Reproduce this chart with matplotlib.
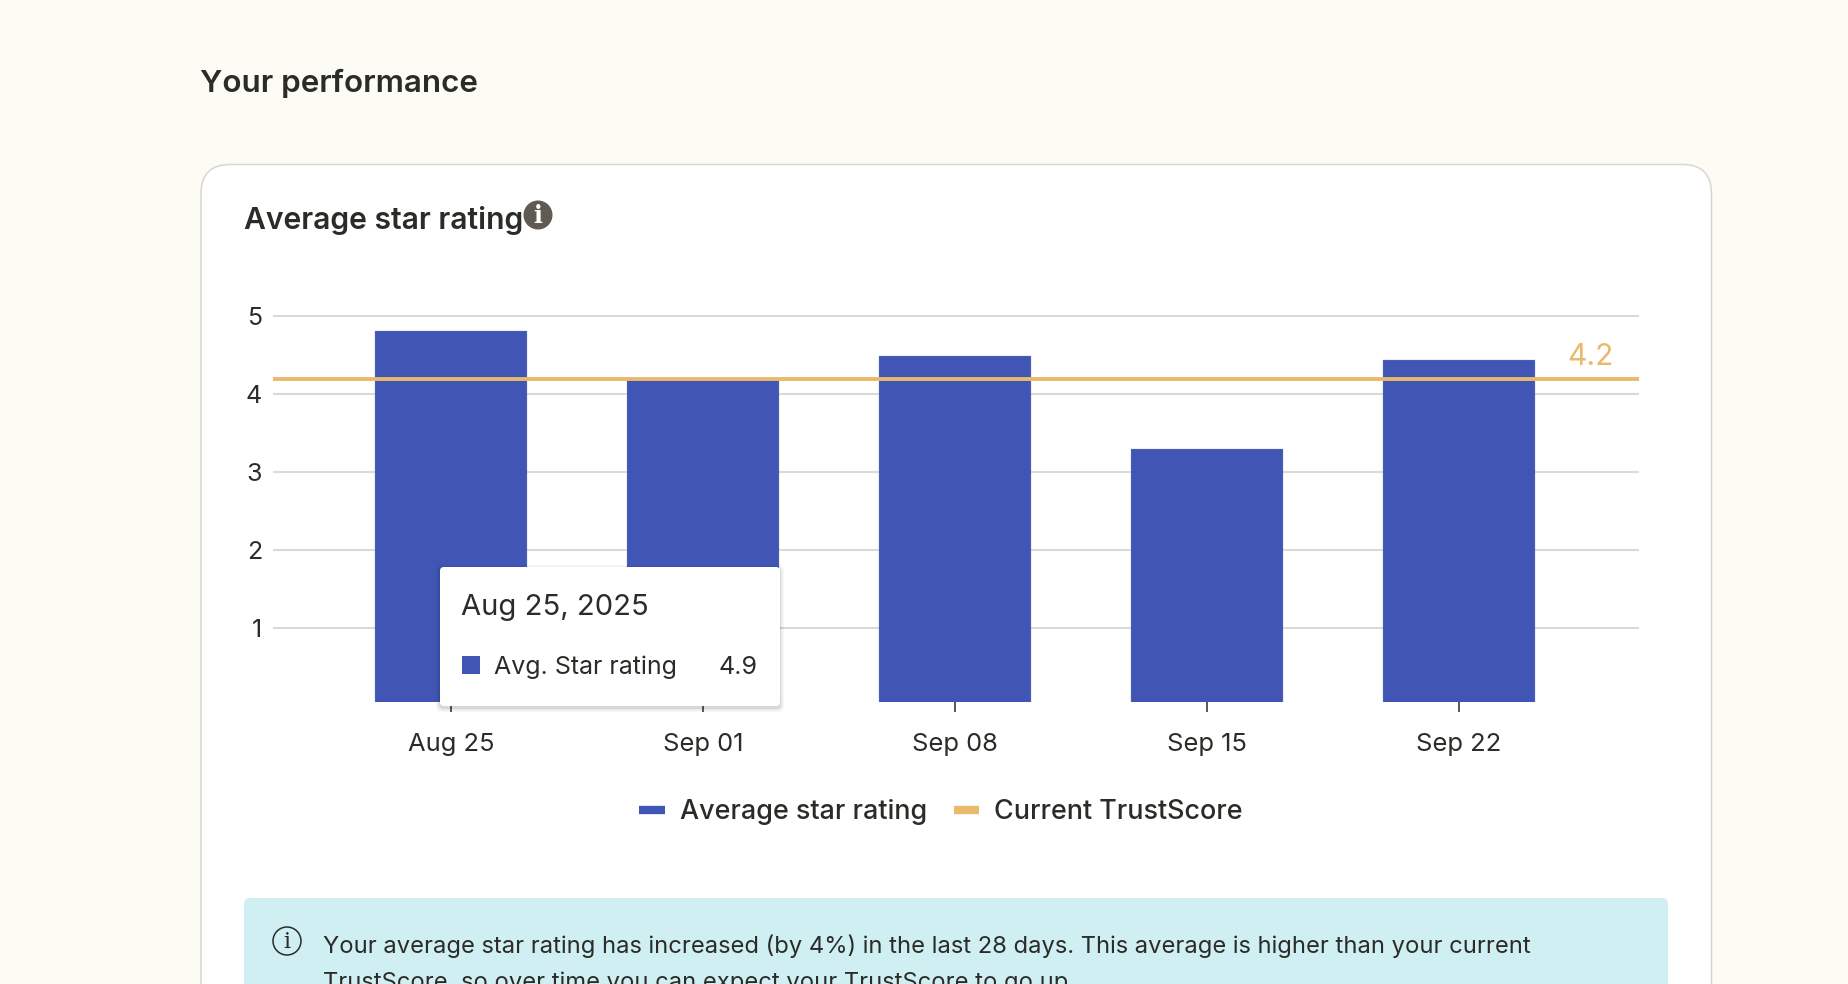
#!/usr/bin/python3
import matplotlib
matplotlib.use('Agg')
import matplotlib.pyplot as plt
from matplotlib.lines import Line2D
from matplotlib.patches import Circle, FancyBboxPatch, Rectangle

plt.rcParams['font.family'] = ['Inter', 'DejaVu Sans']

# data
weeks = ["Aug 25", "Sep 01", "Sep 08", "Sep 15", "Sep 22"]
avg_rating = [4.81, 4.21, 4.49, 3.29, 4.44]
y_ticks = [1, 2, 3, 4, 5]
trustscore_line = 4.19
trustscore_label = "4.2"
tooltip_date = "Aug 25, 2025"
tooltip_label = "Avg. Star rating"
tooltip_value = "4.9"

PAGE = '#fcfcf5'
DARK = '#2b2b27'
BLUE = '#4156b4'
GOLD = '#e9ba6b'
GRID = '#dcd9d4'
W, H = 1848, 984

fig = plt.figure(figsize=(W / 100, H / 100), dpi=100, facecolor=PAGE)


def pixel_axes(z):
    a = fig.add_axes([0, 0, 1, 1], zorder=z)
    a.set_xlim(0, W)
    a.set_ylim(H, 0)
    a.axis('off')
    return a


def rounded(a, x0, y0, x1, y1, r, **kw):
    a.add_patch(FancyBboxPatch((x0, y0), x1 - x0, y1 - y0,
                               boxstyle="round,pad=0,rounding_size=%g" % r, **kw))


# page, card and note box
bg = pixel_axes(0)
rounded(bg, 201, 164.5, 1711.5, 1100, 29, fc='white', ec='#d9d6d0', lw=1.1)
rounded(bg, 244, 898, 1668, 1100, 6, fc='#cfeff3', ec='none')
bg.text(200, 92, "Your performance", fontsize=22.6, fontweight='semibold', color=DARK)
bg.text(244, 229, "Average star rating", fontsize=21.7, fontweight='semibold', color=DARK)
bg.add_patch(Circle((538, 215), 14.5, fc='#5f5b52', ec='none'))
bg.text(538, 216, "i", fontsize=17, family='DejaVu Serif', fontweight='bold', color='white', ha='center', va='center')
bg.add_patch(Circle((287, 941), 14, fc='none', ec=DARK, lw=1.1))
bg.text(287, 942, "i", fontsize=16, family='DejaVu Serif', color=DARK, ha='center', va='center')
bg.text(323, 953, "Your average star rating has increased (by 4%) in the last 28 days. "
        "This average is higher than your current", fontsize=17.08, color=DARK)
bg.text(323, 989, "TrustScore, so over time you can expect your TrustScore to go up.",
        fontsize=17.08, color=DARK)

# the chart
ax = fig.add_axes([273 / W, 1 - 702 / H, (1639 - 273) / W, (702 - 300) / H], zorder=1)
ax.patch.set_alpha(0)
x = list(range(len(weeks)))
ax.bar(x, avg_rating, width=0.6, color=BLUE, edgecolor='#7a8acb', linewidth=0.2, zorder=2)
ax.axhline(trustscore_line, color=GOLD, lw=2.8, zorder=3)
ax.set_xlim(-0.706, 4.714)
ax.set_ylim(0.051, 5.205)
ax.set_xticks(x, weeks)
ax.set_yticks(y_ticks)
ax.grid(axis='y', color=GRID, lw=1.5, zorder=1)
ax.tick_params(axis='y', length=0, pad=8, labelsize=18, labelcolor=DARK)
ax.tick_params(axis='x', length=7, width=1.1, color=DARK, pad=15, labelsize=18.4, labelcolor=DARK)
for s in ax.spines.values():
    s.set_visible(False)
ax.text(4.52, trustscore_line + 0.285, trustscore_label, color=GOLD, fontsize=21.5, ha='center', va='center')

handles = [Line2D([], [], color=BLUE, lw=6, solid_capstyle='butt'),
           Line2D([], [], color=GOLD, lw=6, solid_capstyle='butt')]
ax.legend(handles, ["Average star rating", "Current TrustScore"], ncol=2, frameon=False,
          loc='center', bbox_to_anchor=(941 / W, 1 - 812 / H), bbox_transform=fig.transFigure,
          prop={'size': 19.4, 'weight': 'medium'}, labelcolor=DARK,
          handlelength=0.95, handletextpad=0.55, columnspacing=1.0)

# tooltip over the bars
top = pixel_axes(2)
for grow, alpha in [(4, 0.03), (2.5, 0.05), (1, 0.08)]:
    rounded(top, 440 - grow, 567 - grow + 2, 780 + grow, 706 + grow + 2, 5, fc='black', ec='none', alpha=alpha)
rounded(top, 440, 567, 780, 706, 4, fc='white', ec='none')
top.text(461, 615, tooltip_date, fontsize=21, color=DARK)
top.add_patch(Rectangle((462, 656), 18, 18, fc=BLUE, ec='none'))
top.text(494, 674, tooltip_label, fontsize=18, color=DARK)
top.text(758, 674, tooltip_value, fontsize=18, color=DARK, ha='right')

fig.savefig('out.png', dpi=100, facecolor=PAGE)
